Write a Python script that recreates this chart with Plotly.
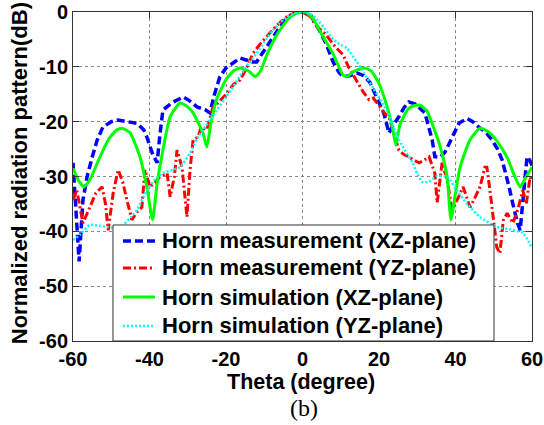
import plotly.graph_objects as go

# ---- data ----
blue_x = [-60, -59.3, -58.4, -57.4, -56.3, -55, -53.7, -52.2, -50, -48.2, -45.5, -43.3, -41.5, -40.7,
          -39.3, -38, -37.3, -36.5, -34, -31.2, -29.5, -27.6, -25.5, -24.2, -23, -21.6, -20, -18.2,
          -16.3, -14.5, -13.2, -12, -10, -8.5, -6, -4, -2, 0,
          2, 3.7, 6, 8, 9.5, 10.6, 12.5, 14.2, 16, 17.6, 19, 20.3, 21.3, 22.6, 23.8, 25.2, 26.5,
          27.8, 29.5, 31, 32, 33, 33.9, 34.6, 36, 37.3, 39.1, 40.9, 43, 44.5, 46.1, 48, 49.5, 51,
          52.2, 53.2, 54, 55, 56.2, 56.9, 57.8, 58.7, 59.4, 60]
blue_y = [-27.5, -35, -45.5, -34.3, -30, -26.5, -23.4, -21, -20, -19.7, -20, -20.3, -21.5, -22.8,
          -25.7, -27.5, -22.5, -17.9, -16.5, -15.5, -16.2, -17.3, -17.8, -18.4, -15, -11.8, -10.2, -9.3,
          -8.4, -8.8, -9.1, -9.1, -7, -5.2, -2.8, -1.0, -0.2, 0,
          -0.5, -2.4, -5.5, -9.1, -11, -11.8, -11.6, -11.1, -11.6, -12.8, -14.8, -17, -18.5, -22.1, -20.5, -19.1, -17.5,
          -16.4, -16.8, -17.8, -18.4, -21, -23.3, -26.4, -26.5, -25.5, -22.8, -20.3, -19.4, -20, -21, -22, -23.3, -25,
          -27, -29.5, -31.9, -35, -38.5, -39.8, -33, -26.4, -27, -28]

red_x = [-60, -59, -57.4, -55.6, -54, -52.4, -51.5, -50.8, -49.5, -48.2, -47, -45.9, -44.6, -43.3,
         -42, -41.2, -39.9, -38.5, -37.3, -35.4, -34.6, -33.5, -32.8, -31.5, -30.2, -29.4, -28.6,
         -27.3, -26.5, -25, -23.4, -22, -19.7, -18, -16.3, -14.5, -12.9, -10.3, -8, -6.7, -4, -2, 0,
         2, 3.7, 6, 8.5, 10.6, 12, 13.3, 15.9, 17.4, 18.5, 20, 21.5, 22.6, 24, 25.2, 26.5, 27.8, 29,
         30.5, 31.8, 33.1, 34.6, 35.2, 36.5, 37.8, 39.1, 40.4, 42, 43.8, 45, 46.4, 47.7, 48.2, 49,
         50.8, 51.6, 52.5, 53.5, 55, 56.3, 57.6, 58.5, 59.5, 60]
red_y = [-34.3, -32.5, -38.5, -35.6, -33, -31.9, -35, -39.8, -33, -28.8, -31, -34.3, -37.9, -36.5,
         -35.6, -28.8, -31.9, -31, -30.1, -29.4, -33.7, -30, -25.2, -28.3, -37.4, -28.8, -23.3,
         -22.8, -21, -21.5, -17.3, -16.5, -14.8, -13.2, -12.4, -10, -7.5, -5.2, -3.5, -2.4, -0.8, -0.2, 0,
         -0.8, -2.6, -4, -6.3, -7.8, -10, -11.5, -14.6, -16, -15.7, -17, -18.5, -19.1, -22.5, -25.2, -26, -26.4, -27,
         -27.5, -27, -26.4, -29.4, -34.8, -27.5, -30.6, -36, -34.3, -31.9, -35.6, -34, -31.9, -28.3, -28.3, -32.5,
         -42.9, -44, -38, -36.7, -38.5, -36, -32.5, -35, -30.1, -31]

green_x = [-60, -58.5, -57.1, -55.5, -53, -50.5, -48.5, -47.2, -45.1, -42.5, -40.7, -39.2, -38, -36.5,
           -34.6, -32, -30, -28.6, -26, -25, -24, -22.5, -20, -18, -16.3, -14, -12.4, -11, -9.3, -7,
           -5, -3, -1, 1, 3, 4.7, 6.5, 8.1, 9.5, 10.6, 11.6, 13.5, 16.3, 18, 20, 22, 23.5, 24.4, 25.5,
           27.5, 29, 30.8, 32.5, 34.5, 36, 37.8, 38.8, 40, 41.2, 43.8, 46.4, 48.5, 50.8, 53.5, 55.5,
           56.9, 58.5, 60]
green_y = [-28.5, -30.8, -31.9, -30.5, -26.5, -23, -21.5, -21.2, -22, -26.4, -31.9, -37.9, -31.2, -25.2,
           -19.1, -16.6, -17.3, -18.4, -22.1, -24.6, -20.5, -16, -12.3, -10.7, -10.2, -10.8, -11.8, -10.8, -7.8, -4.5,
           -2.4, -0.8, -0.1, 0, -1.5, -3.7, -5.8, -7.8, -10, -11.5, -11.8, -10.8, -10.2, -10.8, -13, -17, -21, -24.3, -20.5,
           -17.8, -17.1, -17.0, -18, -21.5, -24.6, -30, -37.9, -33, -28.3, -23.3, -21.2, -21.8, -23.5, -26.5, -30,
           -31.9, -30, -28.3]

cyan_x = [-60, -58, -55.6, -53, -51, -48, -45, -43.3, -40.7, -38.5, -36.5, -34, -32, -29.4, -27.5,
          -26, -24, -22.4, -20, -18, -16, -14, -12, -10, -8, -6, -4, -2, 0,
          2, 4, 6, 8, 10, 11.6, 14.2, 16, 18.5, 20.8, 22.1, 23.5, 25.2, 27, 28.8, 30, 31.3, 33, 35,
          37.8, 40.4, 43, 46.4, 50.8, 54, 57.6, 60]
cyan_y = [-41.6, -40.5, -38.8, -39, -39.2, -39.5, -37.5, -36.1, -32.5, -30.5, -29.4, -28.8, -28.3, -25.7, -23,
          -21.5, -19.5, -17.9, -15.5, -13.5, -11.3, -9.3, -7.6, -5.5, -3.5, -2, -0.9, -0.2, 0,
          -0.3, -1.5, -3.2, -5, -6, -6.6, -9.1, -11, -13.9, -16.5, -18, -20.5, -23.3, -25.5, -27.5, -29.5, -31, -31, -30,
          -30, -32.5, -35, -37.4, -39.2, -39.6, -40.3, -43]

names = ["Horn measurement (XZ-plane)", "Horn measurement (YZ-plane)",
         "Horn simulation (XZ-plane)", "Horn simulation (YZ-plane)"]
colors = ["#0000ff", "#ff0000", "#00ff00", "#00ffff"]
dashes = ["8px,4px", "8px,3px,2px,3px", "solid", "2px,2px"]
widths = [3.5, 3, 3, 2.5]

x_ticks = [-60, -40, -20, 0, 20, 40, 60]
y_ticks = [-60, -50, -40, -30, -20, -10, 0]

FONT = "Liberation Sans, Arial, sans-serif"

fig = go.Figure()
series = [(blue_x, blue_y, "linear"), (red_x, red_y, "linear"),
          (green_x, green_y, "spline"), (cyan_x, cyan_y, "spline")]
for i, (xs, ys, shp) in enumerate(series):
    fig.add_trace(go.Scatter(x=xs, y=ys, mode="lines", name=names[i], showlegend=False,
                             line=dict(color=colors[i], width=widths[i], dash=dashes[i],
                                       shape=shp, smoothing=0.5 if shp == "spline" else None)))

axis_common = dict(
    showline=True, linecolor="#333333", linewidth=1, mirror="ticks",
    ticks="inside", ticklen=6, tickcolor="#333333",
    showgrid=True, gridcolor="#888888", griddash="dot", gridwidth=1,
    zeroline=False, automargin=False,
    tickfont=dict(family=FONT, size=20, color="black", weight="bold"),
)

# ---- legend drawn as a framed box (paper coordinates) ----
box_x0, box_x1, box_y0, box_y1 = 0.0871, 0.9172, 0.0, 0.3526
sample_x0, sample_x1, text_x = 0.1089, 0.1786, 0.1895
row_y = [0.304, 0.2219, 0.1337, 0.0456]

shapes = [dict(type="rect", xref="paper", yref="paper", x0=box_x0, x1=box_x1, y0=box_y0, y1=box_y1,
               fillcolor="white", line=dict(color="#333333", width=1), layer="above")]
annotations = []
for i in range(4):
    shapes.append(dict(type="line", xref="paper", yref="paper", x0=sample_x0, x1=sample_x1,
                       y0=row_y[i], y1=row_y[i], layer="above",
                       line=dict(color=colors[i], width=widths[i], dash=dashes[i])))
    annotations.append(dict(text=names[i], xref="paper", yref="paper", x=text_x, y=row_y[i],
                            xanchor="left", yanchor="middle", showarrow=False,
                            font=dict(family=FONT, size=22, color="black", weight="bold")))

annotations += [
    dict(text="Theta (degree)", xref="paper", yref="paper", x=0.497, y=-0.124,
         xanchor="center", yanchor="middle", showarrow=False,
         font=dict(family=FONT, size=21.5, color="black", weight="bold")),
    dict(text="Normalized radiation pattern(dB)", xref="paper", yref="paper", x=-0.1176, y=0.51,
         xanchor="center", yanchor="middle", showarrow=False, textangle=-90,
         font=dict(family=FONT, size=22, color="black", weight="bold")),
    dict(text="(b)", xref="paper", yref="paper", x=0.503, y=-0.2045,
         xanchor="center", yanchor="middle", showarrow=False,
         font=dict(family="Liberation Serif, Times New Roman, serif", size=24, color="black")),
]

fig.update_layout(
    width=544, height=425, autosize=False,
    margin=dict(l=73, r=12, t=12, b=84),
    paper_bgcolor="white", plot_bgcolor="white",
    font=dict(family=FONT, color="black"),
    xaxis=dict(range=[-60, 60], tickvals=x_ticks, ticktext=[str(v) for v in x_ticks], **axis_common),
    yaxis=dict(range=[-60, 0], tickvals=y_ticks, ticktext=[str(v) for v in y_ticks], **axis_common),
    showlegend=False,
    shapes=shapes,
    annotations=annotations,
)

fig.write_html("out.html", config={"displayModeBar": False},
               post_script="document.body.style.margin='0';document.body.style.padding='0';")
